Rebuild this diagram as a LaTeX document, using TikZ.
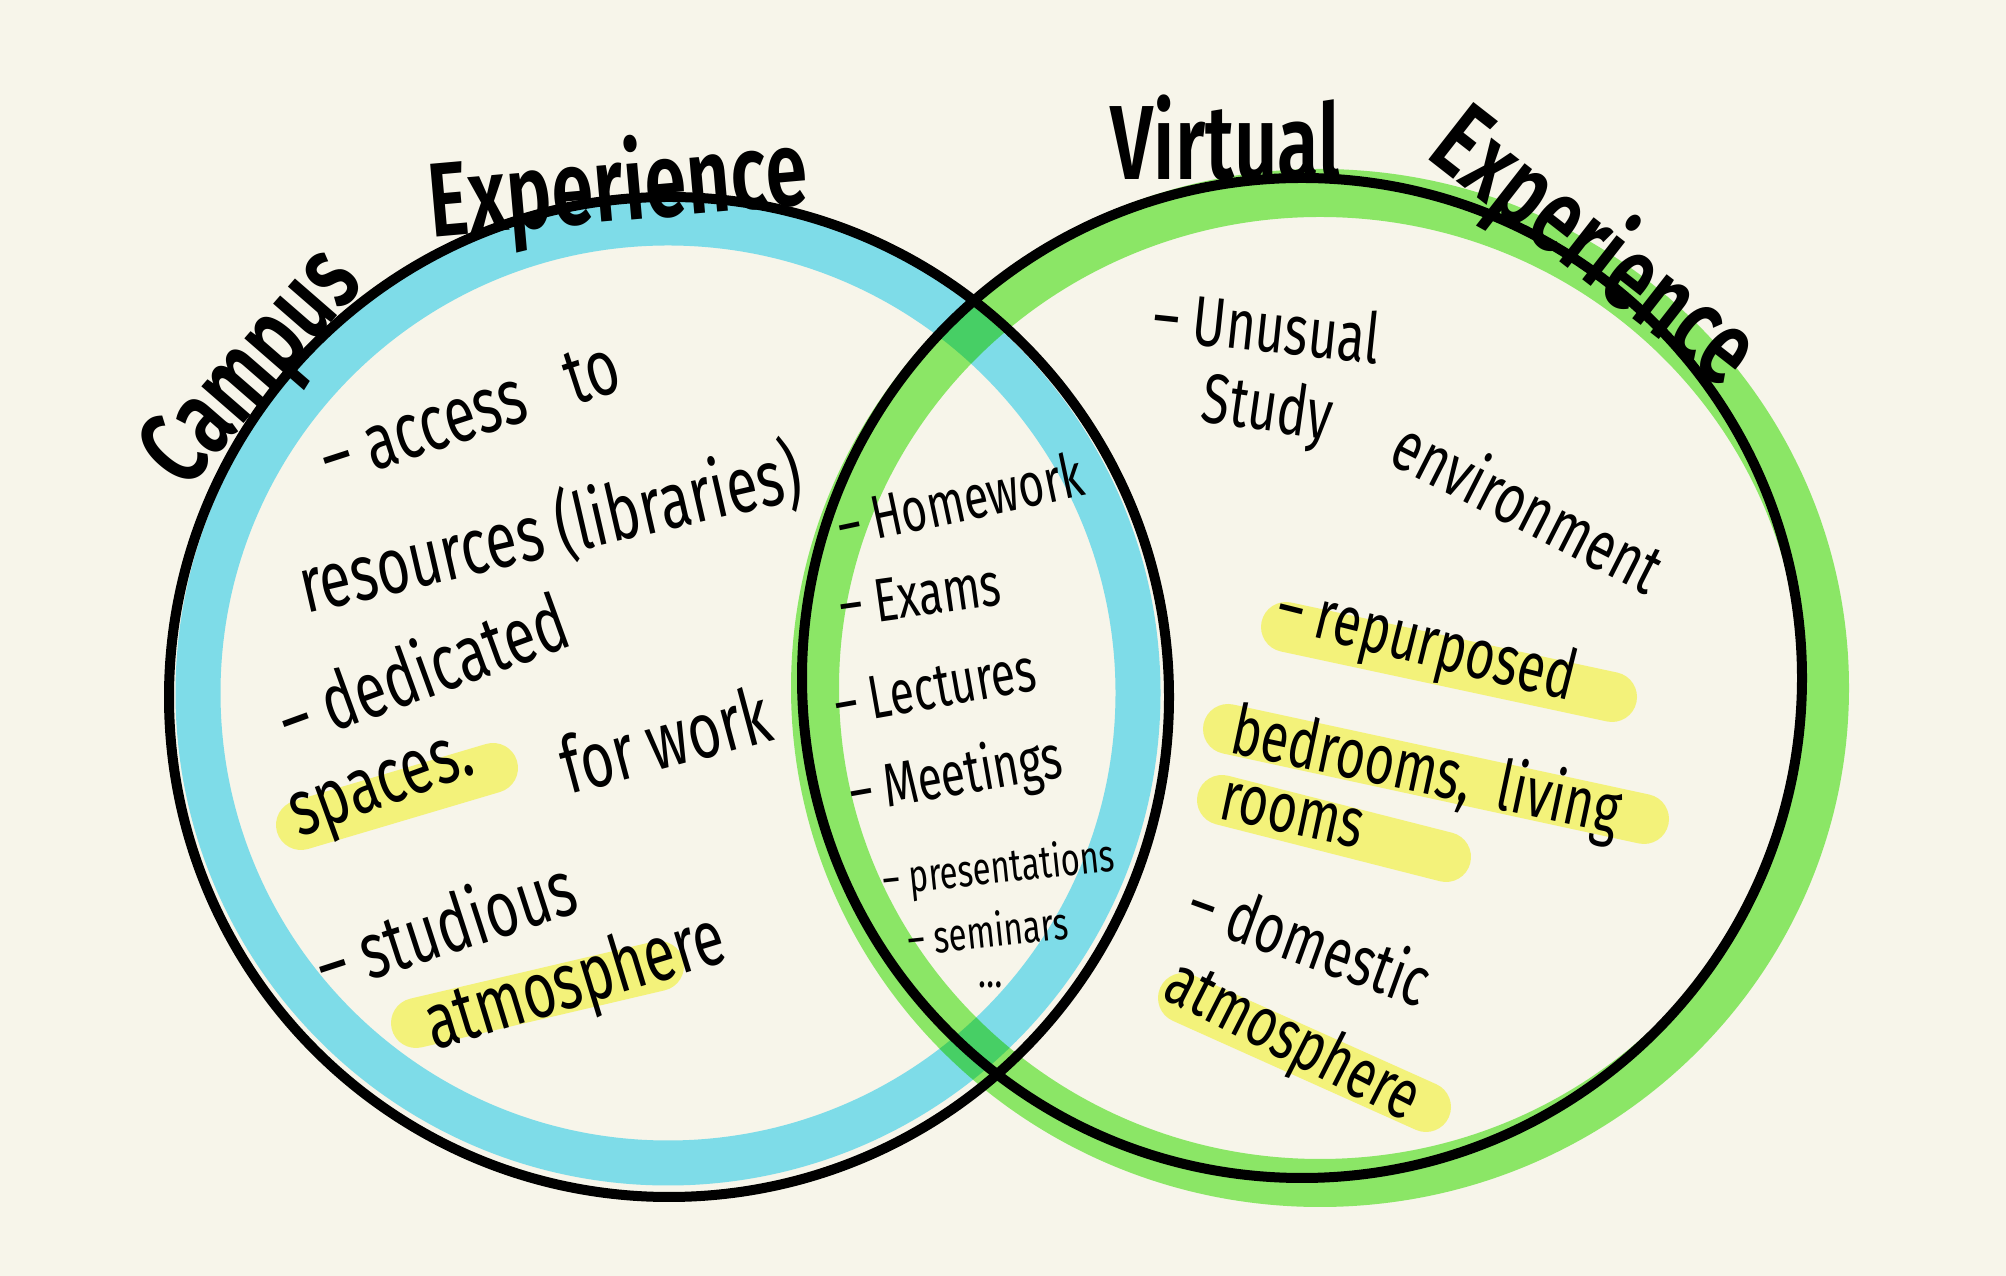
\documentclass[tikz,border=0pt]{standalone}
\usepackage{fontspec}
\newfontfamily\hand{Fira Sans}
\newfontfamily\handbold{Fira Sans SemiBold}
\usetikzlibrary{positioning}
\definecolor{paper}{HTML}{F7F5EA}
\definecolor{campusblue}{HTML}{7EDCE8}
\definecolor{virtualgreen}{HTML}{90F070}
\definecolor{marker}{HTML}{F3F27A}
\newcommand{\slim}[1]{\scalebox{0.72}[1]{#1}}

\begin{document}
\begin{tikzpicture}[campus/.style = {line width = 0.45cm, color = campusblue},
                    virtual/.style = {line width = 0.48cm, color = virtualgreen},
                    outline/.style = {line width = 0.1cm, color = black},
                    highlight/.style = {line width = 0.5cm, color = marker, line cap = round},
                    title/.style = {font = \handbold\fontsize{30}{30}\selectfont, inner sep = 0pt},
                    item/.style = {font = \hand\fontsize{20}{20}\selectfont, inner sep = 0pt},
                    bigitem/.style = {font = \hand\fontsize{22.5}{22.5}\selectfont, inner sep = 0pt},
                    shared/.style = {font = \hand\fontsize{17.5}{17.5}\selectfont, inner sep = 0pt},
                    small/.style = {font = \hand\fontsize{13}{13}\selectfont, inner sep = 0pt}]
        % paper
        \fill[paper] (0,0) rectangle (20.06,12.76);
        \useasboundingbox (0,0) rectangle (20.06,12.76);
        %blue
        \draw[campus] (6.68,5.83) circle[radius = 4.70];
        %green
        \begin{scope}[blend mode = multiply]
            \draw[virtual] (13.20,5.88) ellipse[x radius = 5.05, y radius = 4.95];
        \end{scope}
        %circles
        \draw[outline] (6.69,5.79) circle[radius = 5.0];
        \draw[outline] (13.02,5.98) circle[radius = 5.0];
        %highlights
        \draw[highlight] (3.01,4.51) -- (4.93,5.08);
        \draw[highlight] (4.16,2.53) -- (6.59,3.10);
        \draw[highlight] (12.86,6.49) -- (16.12,5.79);
        \draw[highlight] (12.28,5.47) -- (16.44,4.57);
        \draw[highlight] (12.22,4.76) -- (14.46,4.19);
        \draw[highlight] (11.83,2.78) -- (14.26,1.69);
        %titles
        \node[title, rotate = 49] (campus) at (2.56,9.05) {\slim{Campus}};
        \node[title, rotate = 5] (campusexp) at (6.18,10.86) {\slim{Experience}};
        \node[title] (virtual) at (12.26,11.38) {\slim{Virtual}};
        \node[title, rotate = -38] (virtualexp) at (15.93,10.27) {\slim{Experience}};
        %campus items
        \node[bigitem, rotate = 18] (access) at (4.70,8.63) {\slim{–\ access\ \ \ to}};
        \node[bigitem, rotate = 13] (resources) at (5.50,7.47) {\slim{resources\ (libraries)}};
        \node[bigitem, rotate = 20] (dedicated) at (4.22,6.08) {\slim{–\ dedicated}};
        \node[bigitem, rotate = 20] (spaces) at (3.84,4.83) {\slim{spaces.}};
        \node[bigitem, rotate = 15] (work) at (6.65,5.37) {\slim{for work}};
        \node[bigitem, rotate = 18] (studious) at (4.45,3.52) {\slim{–\ studious}};
        \node[bigitem, rotate = 17] (atmos) at (5.76,2.91) {\slim{atmosphere}};
        %shared items
        \node[shared, rotate = 12] (homework) at (9.60,7.77) {\slim{– Homework}};
        \node[shared, rotate = 8] (exams) at (9.20,6.81) {\slim{– Exams}};
        \node[shared, rotate = 10] (lectures) at (9.35,5.89) {\slim{– Lectures}};
        \node[shared, rotate = 10] (meetings) at (9.56,4.98) {\slim{– Meetings}};
        \node[small, rotate = 6] (presentations) at (9.99,4.06) {\slim{– presentations}};
        \node[small, rotate = 6] (seminars) at (9.88,3.46) {\slim{– seminars}};
        \node[small] (more) at (9.91,2.91) {\slim{\dots}};
        %virtual items
        \node[item, rotate = -6] (unusual) at (12.67,9.50) {\slim{– Unusual}};
        \node[item, rotate = -8] (study) at (12.67,8.64) {\slim{Study}};
        \node[item, rotate = -27] (environment) at (15.29,7.71) {\slim{environment}};
        \node[item, rotate = -14] (repurposed) at (14.26,6.30) {\slim{– repurposed}};
        \node[item, rotate = -12] (bedrooms) at (14.26,5.02) {\slim{bedrooms,\ \ living}};
        \node[item, rotate = -12] (rooms) at (12.92,4.61) {\slim{rooms}};
        \node[item, rotate = -20] (domestic) at (13.11,3.36) {\slim{– domestic}};
        \node[item, rotate = -27] (atmosv) at (12.92,2.33) {\slim{atmosphere}};
    \end{tikzpicture}
\end{document}
